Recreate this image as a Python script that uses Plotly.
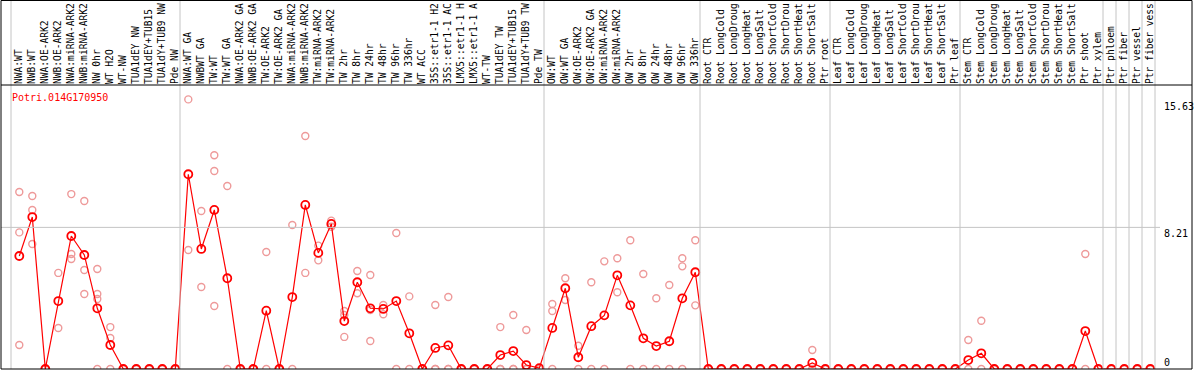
import plotly.graph_objects as go

gene = "Potri.014G170950"

group_sizes = [13, 28, 12, 10, 10, 11, 1, 1, 1, 1]

# tick labels as displayed (the chart truncates them to 14 characters)
labels = [
    "NWA:WT", "NWB:WT", "NWA:OE-ARK2", "NWB:OE-ARK2", "NWA:miRNA-ARK2", "NWB:miRNA-ARK2",
    "NW 0hr", "WT H2O", "WT-NW", "TUA1dEY NW", "TUA1dEY+TUB15", "TUA1dY+TUB9 NW", "Pde NW",
    "NWA:WT GA", "NWBWT GA", "TW:WT", "TW:WT GA", "NWA:OE-ARK2 GA", "NWB:OE-ARK2 GA",
    "TW:OE-ARK2", "TW:OE-ARK2 GA", "NWA:miRNA-ARK2", "NWB:miRNA-ARK2", "TW:miRNA-ARK2",
    "TW:miRNA-ARK2", "TW 2hr", "TW 8hr", "TW 24hr", "TW 48hr", "TW 96hr", "TW 336hr", "WT ACC",
    "35S::etr1-1 H2", "35S::etr1-1 AC", "LMX5::etr1-1 H", "LMX5::etr1-1 A", "WT-TW",
    "TUA1dEY TW", "TUA1dEY+TUB15", "TUA1dY+TUB9 TW", "Pde TW",
    "OW:WT", "OW:WT GA", "OW:OE-ARK2", "OW:OE-ARK2 GA", "OW:miRNA-ARK2", "OW:miRNA-ARK2",
    "OW 2hr", "OW 8hr", "OW 24hr", "OW 48hr", "OW 96hr", "OW 336hr",
    "Root CTR", "Root LongCold", "Root LongDroug", "Root LongHeat", "Root LongSalt",
    "Root ShortCold", "Root ShortDrou", "Root ShortHeat", "Root ShortSalt", "Ptr root",
    "Leaf CTR", "Leaf LongCold", "Leaf LongDroug", "Leaf LongHeat", "Leaf LongSalt",
    "Leaf ShortCold", "Leaf ShortDrou", "Leaf ShortHeat", "Leaf ShortSalt", "Ptr leaf",
    "Stem CTR", "Stem LongCold", "Stem LongDroug", "Stem LongHeat", "Stem LongSalt",
    "Stem ShortCold", "Stem ShortDrou", "Stem ShortHeat", "Stem ShortSalt", "Ptr shoot",
    "Ptr xylem",
    "Ptr phloem", "Ptr fiber", "Ptr vessel", "Ptr fiber vess",
]

means = [
    6.55, 8.81, 0, 3.94, 7.71, 6.61, 3.52, 1.39, 0, 0, 0, 0, 0,
    11.29, 6.96, 9.22, 5.26, 0, 0, 3.38, 0, 4.17, 9.51, 6.73, 8.41, 2.78, 5.03, 3.52, 3.48,
    3.94, 2.07, 0, 1.22, 1.37, 0, 0, 0, 0.81, 1.04, 0.23, 0.05,
    2.38, 4.68, 0.68, 2.48, 3.11, 5.43, 3.69, 1.78, 1.33, 1.61, 4.10, 5.61,
    0, 0, 0, 0, 0, 0, 0, 0, 0.35, 0,
    0, 0, 0, 0, 0, 0, 0, 0, 0, 0,
    0.52, 0.91, 0, 0, 0, 0, 0, 0, 0, 2.20, 0,
    0, 0, 0, 0,
]

replicates = [
    [10.26, 7.92, 1.39], [10.03, 9.22, 7.25], [0, 0], [5.57, 2.38], [10.14, 6.67, 6.38],
    [9.74, 5.74, 4.35], [5.80, 4.35, 4.06, 0], [2.43, 1.80, 0], [0, 0], [0, 0], [0, 0], [0, 0], [0, 0],
    [15.63, 6.90], [9.16, 4.75], [12.39, 11.48, 3.65], [10.61, 0], [0, 0], [0, 0], [6.78, 0], [0, 0],
    [8.35, 0], [13.51, 5.57], [7.15, 6.30], [8.60, 8.25], [3.36, 3.13, 1.86], [5.68, 4.39],
    [5.45, 3.42, 1.62], [3.71, 3.17], [7.88, 0], [4.21, 0], [0, 0], [3.71, 0, 0], [4.17, 0, 0],
    [0, 0], [0, 0], [0, 0], [2.43, 0, 0], [3.13, 0, 0], [2.26, 0, 0], [0, 0],
    [3.77, 3.36, 0], [5.26, 4.00], [1.35, 0], [5.03, 0], [6.24, 0], [6.42, 4.45], [7.46, 0],
    [5.51, 0], [4.10, 0], [4.87, 0], [6.42, 5.95, 0], [7.46, 3.69],
    [0, 0], [0, 0], [0, 0], [0, 0], [0, 0], [0, 0], [0, 0], [0, 0], [1.10, 0], [0, 0],
    [0, 0], [0, 0], [0, 0], [0, 0], [0, 0], [0, 0], [0, 0], [0, 0], [0, 0], [0, 0],
    [1.68, 0], [2.80, 0], [0, 0], [0, 0], [0, 0], [0, 0], [0, 0], [0, 0], [0, 0], [6.67, 0], [0, 0],
    [0, 0], [0, 0], [0, 0], [0, 0],
]

axis_labels = [("15.63", 15.63, -7), ("8.21", 8.21, -6), ("0", 0, 7)]

# ---------------------------------------------------------------
W, H = 1194, 370
ML, MR, MT, MB = 1, 2, 85, 1
px_per_cat = 13.0
first_px = 19.3
px_per_unit = 17.25

x_idx = list(range(len(labels)))
x_lo = (ML - first_px) / px_per_cat
x_hi = x_lo + (W - ML - MR) / px_per_cat
y_hi = (H - MT - MB) / px_per_unit
plot_h = H - MT - MB
plot_w = W - ML - MR

rep_x, rep_y = [], []
for i, reps in enumerate(replicates):
    for v in reps:
        rep_x.append(i)
        rep_y.append(v)

fig = go.Figure()
fig.add_trace(go.Scatter(
    x=rep_x, y=rep_y, mode="markers",
    marker=dict(symbol="circle-open", size=7, color="#EE9A9A", line=dict(width=1.4, color="#EE9A9A")),
    hoverinfo="skip", showlegend=False,
))
fig.add_trace(go.Scatter(
    x=x_idx, y=means, mode="lines+markers",
    line=dict(color="#FF0000", width=1.2),
    marker=dict(symbol="circle-open", size=8, color="#FF0000", line=dict(width=1.8, color="#FF0000")),
    showlegend=False,
))

shapes = []
top_paper = (H - MB - 0.5) / plot_h
bounds = [0]
for g in group_sizes:
    bounds.append(bounds[-1] + g)
for b in bounds:
    xs = b - 8.3 / px_per_cat
    shapes.append(dict(type="line", xref="x", yref="paper", x0=xs, x1=xs, y0=0, y1=top_paper,
                       line=dict(color="#C4C4C4", width=1)))
shapes.append(dict(type="line", xref="paper", yref="y", x0=0, x1=(1160 - ML) / plot_w,
                   y0=8.21, y1=8.21, line=dict(color="#C4C4C4", width=1)))
shapes.append(dict(type="rect", xref="paper", yref="paper", x0=0, x1=1, y0=0, y1=top_paper,
                   line=dict(color="black", width=1)))
shapes.append(dict(type="line", xref="paper", yref="paper", x0=0, x1=1, y0=1, y1=1,
                   line=dict(color="black", width=1)))

annotations = [dict(text=gene, xref="paper", yref="paper", x=(10 - ML) / plot_w,
                    y=(H - MB - 97) / plot_h, xanchor="left", yanchor="middle", showarrow=False,
                    font=dict(family="DejaVu Sans Mono", size=10, color="#FF0000"))]
for txt, val, shift in axis_labels:
    annotations.append(dict(text=txt, xref="paper", yref="y", x=(1162 - ML) / plot_w, y=val,
                            yshift=shift, xanchor="left", yanchor="middle", showarrow=False,
                            font=dict(family="DejaVu Sans Mono", size=10, color="black")))

fig.update_layout(
    width=W, height=H,
    margin=dict(l=ML, r=MR, t=MT, b=MB, pad=0),
    paper_bgcolor="white", plot_bgcolor="white",
    shapes=shapes, annotations=annotations,
    xaxis=dict(range=[x_lo, x_hi], side="top", tickmode="array", tickvals=x_idx, ticktext=labels,
               tickangle=-90, ticks="", showgrid=False, zeroline=False, showline=False,
               automargin=False, tickfont=dict(family="DejaVu Sans Mono", size=9.6, color="black")),
    yaxis=dict(range=[0, y_hi], showgrid=False, zeroline=False, showline=False,
               showticklabels=False, ticks="", automargin=False),
)

fig.write_html(
    "out.html",
    config={"displayModeBar": False},
    post_script="document.body.style.margin='0';document.body.style.overflow='hidden';",
)
